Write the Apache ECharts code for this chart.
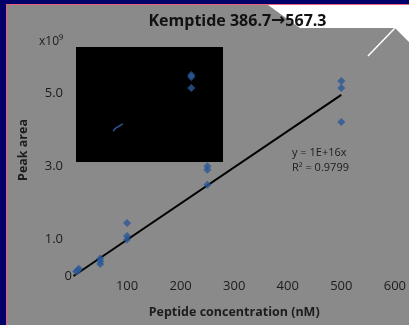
<!DOCTYPE html>
<html>
<head>
<meta charset="utf-8">
<script src="https://cdn.jsdelivr.net/npm/echarts@6/dist/echarts.min.js"></script>
<style>
  html, body { margin: 0; padding: 0; background: #8a8a8a; }
  #chart { width: 409px; height: 325px; }
</style>
</head>
<body>
<div id="chart"></div>
<script>
// peptide concentration (nM) vs peak area (x10^9)
const concentrations = [5, 8, 10, 50, 50, 50, 100, 100, 100, 220, 220, 220, 250, 250, 250, 500, 500, 500];
const peakAreas = [0.12, 0.16, 0.2, 0.48, 0.4, 0.33, 1.45, 1.09, 1.0, 5.49, 5.44, 5.14, 3.0, 2.9, 2.49, 5.33, 5.14, 4.21];
const trendX = [0, 500];
const trendY = [0, 4.95];
// small blue stroke inside the dark inset
const strokeX = [74, 79, 86, 92];
const strokeY = [3.96, 4.04, 4.1, 4.16];
const xTicks = [100, 200, 300, 400, 500, 600];
const yTickLabels = { 0: "0", 1: "1.0", 3: "3.0", 5: "5.0" };

const FONT = "Open Sans";
const TEXT = "#1c1c1c";

const chart = echarts.init(document.getElementById("chart"), null, { renderer: "canvas" });

chart.setOption({
  backgroundColor: "#8a8a8a",
  animation: false,
  grid: { left: 73.5, right: 14, top: 56.4, bottom: 49 },
  xAxis: {
    type: "value",
    min: 0,
    max: 600,
    interval: 100,
    axisLine: { show: false },
    axisTick: { show: false },
    splitLine: { show: false },
    axisLabel: {
      color: TEXT,
      fontFamily: FONT,
      fontSize: 13,
      margin: 4,
      formatter: (v) => (xTicks.includes(v) ? String(v) : ""),
    },
    name: "Peptide concentration (nM)",
    nameLocation: "middle",
    nameGap: 30,
    nameTextStyle: { color: TEXT, fontFamily: FONT, fontSize: 12.5, fontWeight: "bold" },
  },
  yAxis: {
    type: "value",
    min: 0,
    max: 6,
    interval: 1,
    axisLine: { show: false },
    axisTick: { show: false },
    splitLine: { show: false },
    axisLabel: {
      color: TEXT,
      fontFamily: FONT,
      fontSize: 13,
      margin: 1.5,
      formatter: (v) => {
        const t = yTickLabels[v];
        if (t === undefined) return "";
        return v === 0 ? "{z|" + t + "}" : "{n|" + t + "}";
      },
      rich: {
        z: { color: TEXT, fontFamily: FONT, fontSize: 13 },
        n: { color: TEXT, fontFamily: FONT, fontSize: 13, padding: [0, 9, 0, 0] },
      },
    },
  },
  graphic: [
    // slide frame
    { type: "rect", shape: { x: 0, y: 0, width: 409, height: 4 }, style: { fill: "#00006b" }, z: 10 },
    { type: "rect", shape: { x: 0, y: 0, width: 6, height: 325 }, style: { fill: "#00006b" }, z: 10 },
    { type: "rect", shape: { x: 6, y: 4, width: 1, height: 321 }, style: { fill: "#e8647c" }, z: 10 },
    { type: "rect", shape: { x: 6, y: 4, width: 403, height: 1 }, style: { fill: "#e8647c" }, z: 10 },
    // folded white corner
    {
      type: "polygon",
      shape: { points: [[268, 5], [409, 5], [409, 42], [395, 28], [300, 28]] },
      style: { fill: "#ffffff" },
      z: 0,
    },
    { type: "line", shape: { x1: 395, y1: 28, x2: 368, y2: 56 }, style: { stroke: "#ffffff", lineWidth: 1.5 }, z: 0 },
    // dark inset
    { type: "rect", shape: { x: 76, y: 47, width: 147, height: 115 }, style: { fill: "#000000" }, z: 1 },
    {
      type: "text",
      x: 237.5,
      y: 21,
      style: {
        text: "{t|Kemptide 386.7}{a|\u2192}{t|567.3}",
        align: "center",
        verticalAlign: "middle",
        rich: {
          t: { fill: "#111", font: "bold 16px " + FONT },
          a: { fill: "#111", font: "bold 17px 'DejaVu Sans'" },
        },
      },
      z: 5,
    },
    {
      type: "text",
      x: 23,
      y: 150,
      rotation: Math.PI / 2,
      style: { text: "Peak area", fill: TEXT, font: "bold 12.5px " + FONT, align: "center", verticalAlign: "middle" },
      z: 5,
    },
    {
      type: "text",
      x: 39,
      y: 42,
      style: { text: "x10\u2079", fill: TEXT, font: "12px " + FONT, align: "left", verticalAlign: "middle" },
      z: 5,
    },
    {
      type: "text",
      x: 292,
      y: 153,
      style: { text: "y = 1E+16x", fill: TEXT, font: "11px " + FONT, align: "left", verticalAlign: "middle" },
      z: 5,
    },
    {
      type: "text",
      x: 292,
      y: 168,
      style: { text: "R\u00b2 = 0.9799", fill: TEXT, font: "11px " + FONT, align: "left", verticalAlign: "middle" },
      z: 5,
    },
  ],
  series: [
    {
      type: "line",
      data: trendX.map((x, i) => [x, trendY[i]]),
      showSymbol: false,
      lineStyle: { color: "#000000", width: 2 },
      z: 2,
    },
    {
      type: "line",
      data: strokeX.map((x, i) => [x, strokeY[i]]),
      showSymbol: false,
      smooth: true,
      lineStyle: { color: "#2b5797", width: 1.5 },
      z: 3,
    },
    {
      type: "scatter",
      data: concentrations.map((x, i) => [x, peakAreas[i]]),
      symbol: "diamond",
      symbolSize: 8,
      itemStyle: { color: "#2b5797" },
      z: 4,
    },
  ],
});
</script>
</body>
</html>
